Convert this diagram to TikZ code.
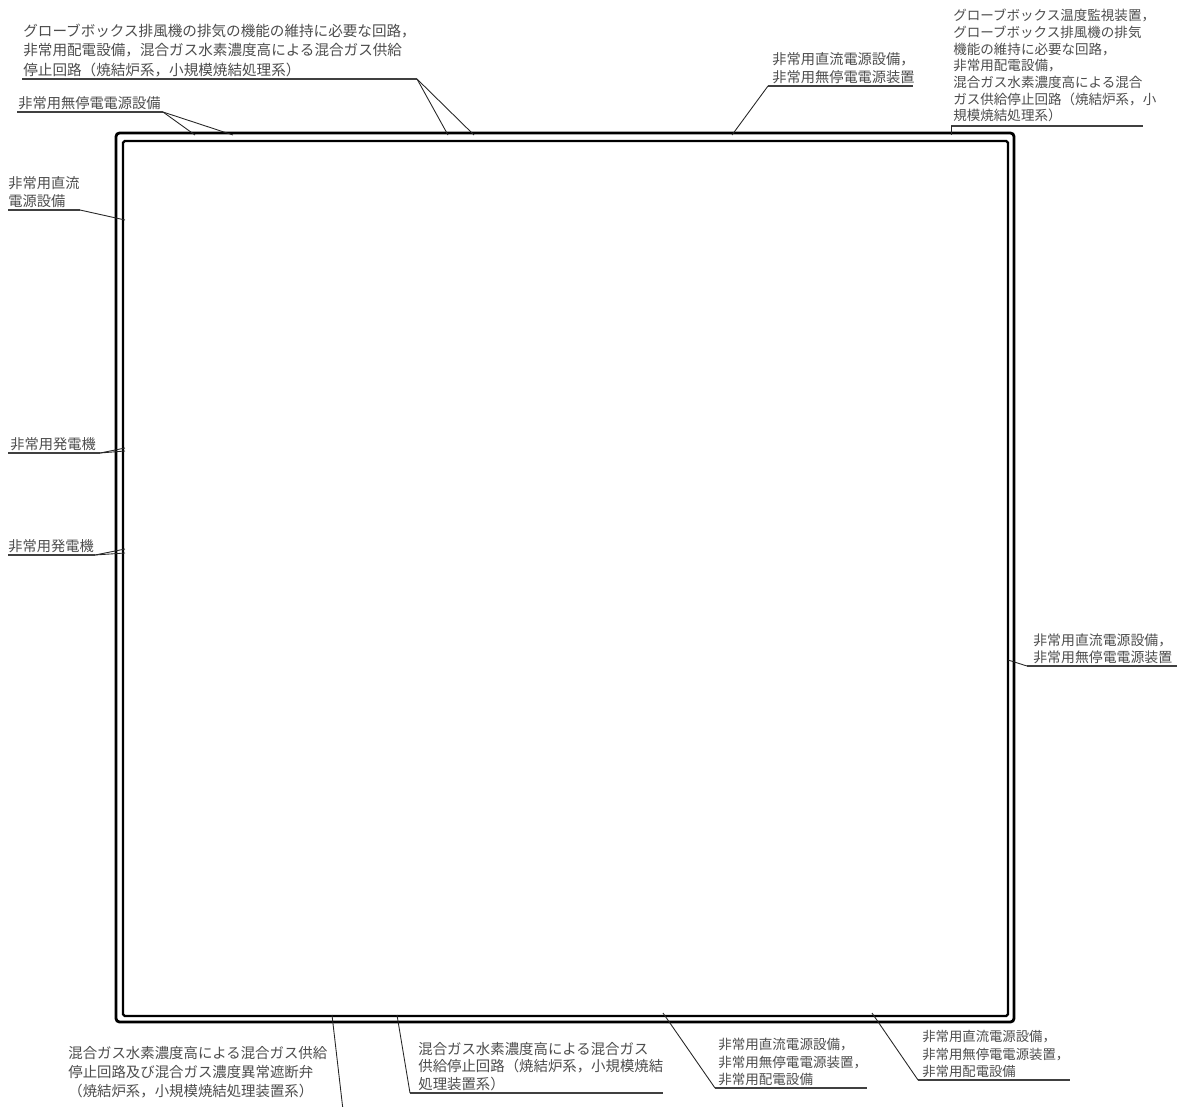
\documentclass[tikz,border=0pt]{standalone}
\usepackage{fontspec}
\setmainfont{Noto Sans CJK JP}
\usetikzlibrary{positioning}

\begin{document}
\begin{tikzpicture}[
    x=0.02cm, y=-0.02cm,
    lbl/.style={anchor=south west, inner xsep=0pt, inner ysep=1pt, align=left,
                text=black!70, font=\fontsize{8.1}{10.1}\selectfont},
    uline/.style={black!75, line width=0.6pt},
    lead/.style={black!85, line width=0.5pt},
    wall/.style={line width=1.6pt, rounded corners=2pt}
  ]
  \useasboundingbox (0,0) rectangle (1177,1106);

  % ---- Double wall of the room ----
  \draw[wall] (116,133) rectangle (1014,1022);
  \draw[wall, line width=1.3pt, rounded corners=1pt] (123,141) rectangle (1008,1016);

  % ---- Points on the wall ----
  \coordinate (wExhA) at (448,135);
  \coordinate (wExhB) at (474,135);
  \coordinate (wUpsA) at (195,135);
  \coordinate (wUpsB) at (233,135);
  \coordinate (wDcTop) at (732,135);
  \coordinate (wTemp) at (951,135);
  \coordinate (wDcLeft) at (125,220);
  \coordinate (wGenA) at (125,448);
  \coordinate (wGenB) at (125,451);
  \coordinate (wGenC) at (125,549);
  \coordinate (wGenD) at (125,553);
  \coordinate (wDcRight) at (1008,660);
  \coordinate (wValve) at (332,1015);
  \coordinate (wStop) at (397,1015);
  \coordinate (wDistA) at (663,1013);
  \coordinate (wDistB) at (872,1013);

  % ---- Top-left: exhaust circuit ----
  \coordinate (exhL) at (22,79);
  \coordinate (exhR) at (417,79);
  \node[lbl, font=\fontsize{8.3}{11.1}\selectfont] (exhLbl) at (23,79)
    {グローブボックス排風機の排気の機能の維持に必要な回路，\\
     非常用配電設備，混合ガス水素濃度高による混合ガス供給\\
     停止回路（焼結炉系，小規模焼結処理系）};
  \draw[uline] (exhL) -- (exhR);
  \draw[lead] (exhR) -- (wExhA);
  \draw[lead] (exhR) -- (wExhB);

  % ---- UPS ----
  \coordinate (upsL) at (17,112);
  \coordinate (upsR) at (163,112);
  \node[lbl] (upsLbl) at (18,112) {非常用無停電電源設備};
  \draw[uline] (upsL) -- (upsR);
  \draw[lead] (upsR) -- (wUpsA);
  \draw[lead] (upsR) -- (wUpsB);

  % ---- Top-middle: DC + UPS ----
  \coordinate (dcTopL) at (768,86);
  \coordinate (dcTopR) at (913,86);
  \node[lbl] (dcTopLbl) at (772,86)
    {非常用直流電源設備，\\非常用無停電電源装置};
  \draw[uline] (dcTopL) -- (dcTopR);
  \draw[lead] (dcTopL) -- (wDcTop);

  % ---- Top-right: temperature monitor etc. ----
  \coordinate (tempL) at (951,126);
  \coordinate (tempR) at (1143,126);
  \node[lbl, inner ysep=2pt, font=\fontsize{7.7}{9.5}\selectfont] (tempLbl) at (953,126)
    {グローブボックス温度監視装置，\\
     グローブボックス排風機の排気\\
     機能の維持に必要な回路，\\
     非常用配電設備，\\
     混合ガス水素濃度高による混合\\
     ガス供給停止回路（焼結炉系，小\\
     規模焼結処理系）};
  \draw[uline] (tempL) -- (tempR);
  \draw[lead] (tempL) -- (wTemp);

  % ---- Left side ----
  \coordinate (dcLeftL) at (8,210);
  \coordinate (dcLeftR) at (80,210);
  \node[lbl] (dcLeftLbl) at (8,210) {非常用直流\\電源設備};
  \draw[uline] (dcLeftL) -- (dcLeftR);
  \draw[lead] (dcLeftR) -- (wDcLeft);

  \coordinate (genAL) at (8,453);
  \coordinate (genAR) at (100,453);
  \node[lbl] (genALbl) at (10,453) {非常用発電機};
  \draw[uline] (genAL) -- (genAR);
  \draw[lead] (genAR) -- (wGenA);
  \draw[lead] (genAR) -- (wGenB);

  \coordinate (genBL) at (8,555);
  \coordinate (genBR) at (95,555);
  \node[lbl] (genBLbl) at (8,555) {非常用発電機};
  \draw[uline] (genBL) -- (genBR);
  \draw[lead] (genBR) -- (wGenC);
  \draw[lead] (genBR) -- (wGenD);

  % ---- Right side ----
  \coordinate (dcRightL) at (1027,666);
  \coordinate (dcRightR) at (1177,666);
  \node[lbl, font=\fontsize{7.9}{9.8}\selectfont] (dcRightLbl) at (1033,666)
    {非常用直流電源設備，\\非常用無停電電源装置};
  \draw[uline] (dcRightL) -- (dcRightR);
  \draw[lead] (wDcRight) -- (dcRightL);

  % ---- Bottom row ----
  \coordinate (valveEnd) at (343,1110);
  \node[lbl, font=\fontsize{8.2}{10.9}\selectfont] (valveLbl) at (68,1100)
    {混合ガス水素濃度高による混合ガス供給\\
     停止回路及び混合ガス濃度異常遮断弁\\
     （焼結炉系，小規模焼結処理装置系）};
  \draw[lead] (wValve) -- (valveEnd);

  \coordinate (stopL) at (410,1093);
  \coordinate (stopR) at (663,1093);
  \node[lbl, font=\fontsize{8.2}{10}\selectfont] (stopLbl) at (418,1093)
    {混合ガス水素濃度高による混合ガス\\
     供給停止回路（焼結炉系，小規模焼結\\
     処理装置系）};
  \draw[uline] (stopL) -- (stopR);
  \draw[lead] (wStop) -- (stopL);

  \coordinate (distAL) at (715,1088);
  \coordinate (distAR) at (867,1088);
  \node[lbl, font=\fontsize{7.7}{10}\selectfont] (distALbl) at (718,1088)
    {非常用直流電源設備，\\非常用無停電電源装置，\\非常用配電設備};
  \draw[uline] (distAL) -- (distAR);
  \draw[lead] (wDistA) -- (distAL);

  \coordinate (distBL) at (918,1080);
  \coordinate (distBR) at (1070,1080);
  \node[lbl, font=\fontsize{7.6}{10}\selectfont] (distBLbl) at (922,1080)
    {非常用直流電源設備，\\非常用無停電電源装置，\\非常用配電設備};
  \draw[uline] (distBL) -- (distBR);
  \draw[lead] (wDistB) -- (distBL);

\end{tikzpicture}
\end{document}
